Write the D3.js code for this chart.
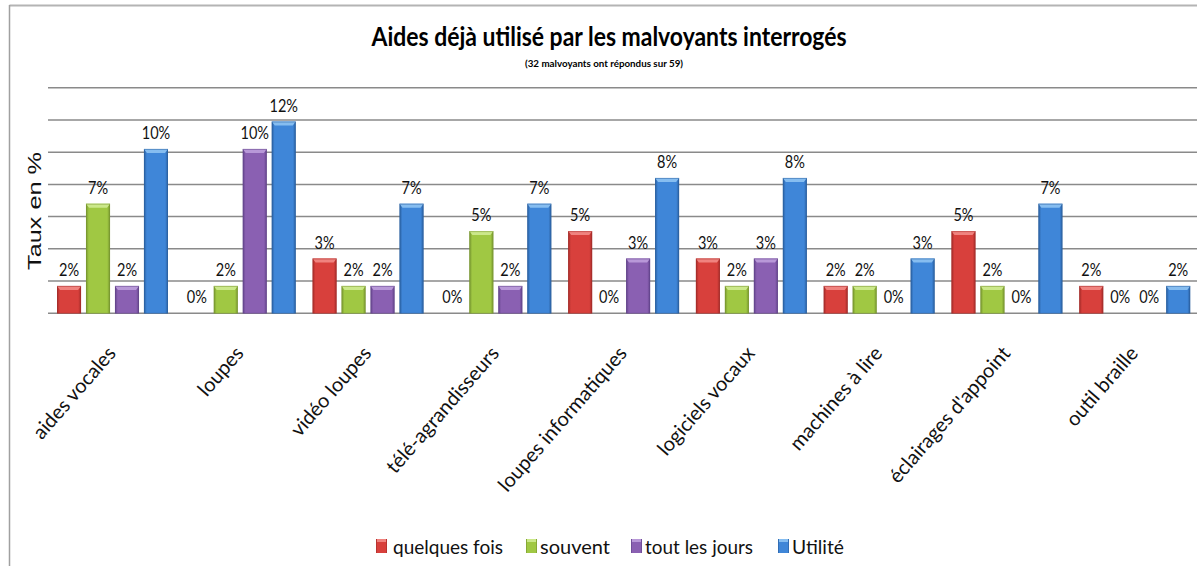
<!DOCTYPE html>
<html><head><meta charset="utf-8">
<script src="https://cdn.jsdelivr.net/npm/d3@7"></script>
<style>html,body{margin:0;padding:0;background:#fff;}svg{display:block;}</style>
</head><body>
<svg id="chart" width="1197" height="566"></svg>
<script>
const categories = ["aides vocales","loupes","vidéo loupes","télé-agrandisseurs","loupes informatiques","logiciels vocaux","machines à lire","éclairages d'appoint","outil braille"];
const series = ["quelques fois","souvent","tout les jours","Utilité"];
const quelquesFois = [1.7, 0, 3.4, 0, 5.1, 3.4, 1.7, 5.1, 1.7];
const souvent      = [6.8, 1.7, 1.7, 5.1, 0, 1.7, 1.7, 1.7, 0];
const toutLesJours = [1.7, 10.2, 1.7, 1.7, 3.4, 3.4, 0, 0, 0];
const utilite      = [10.2, 11.9, 6.8, 6.8, 8.4, 8.4, 3.4, 6.8, 1.7];
const yTicks = [0, 2, 4, 6, 8, 10, 12, 14];
const title = "Aides déjà utilisé par les malvoyants interrogés";
const subtitle = "(32 malvoyants ont répondus sur 59)";
const yLabel = "Taux en %";

const seriesValues = [quelquesFois, souvent, toutLesJours, utilite];
const colors = [
  {main:"#d8403c", edge:"#a32c29", top:"#f0837f"},
  {main:"#a0c843", edge:"#77952f", top:"#cbe88a"},
  {main:"#8a60b2", edge:"#62448a", top:"#b898d8"},
  {main:"#3f86d8", edge:"#2a5f9f", top:"#86bdf0"}
];

const svg = d3.select("#chart");
const defs = svg.append("defs");
colors.forEach((c,i)=>{
  const g = defs.append("linearGradient").attr("id","grad"+i).attr("x1","0").attr("x2","1").attr("y1","0").attr("y2","0");
  g.append("stop").attr("offset","0%").attr("stop-color",c.edge);
  g.append("stop").attr("offset","12%").attr("stop-color",c.main);
  g.append("stop").attr("offset","50%").attr("stop-color",c.main);
  g.append("stop").attr("offset","88%").attr("stop-color",c.main);
  g.append("stop").attr("offset","100%").attr("stop-color",c.edge);
});

// frame
svg.append("line").attr("x1",9.5).attr("x2",1197).attr("y1",5.5).attr("y2",5.5).attr("stroke","#b4b4b4").attr("stroke-width",2);
svg.append("line").attr("x1",9.5).attr("x2",9.5).attr("y1",5).attr("y2",566).attr("stroke","#a0a0a0").attr("stroke-width",1.5);

const x0 = d3.scaleBand().domain(categories).range([48, 1198]).paddingInner(0).paddingOuter(0);
const x1 = d3.scaleBand().domain(series).range([9, 120]).paddingInner(0.17);
const y = d3.scaleLinear().domain([0,14]).range([313.3, 87.7]);

// gridlines
svg.append("g").selectAll("line").data(yTicks).join("line")
  .attr("x1",48).attr("x2",1197)
  .attr("y1",d=>y(d)).attr("y2",d=>y(d))
  .attr("stroke","#8a8a8a").attr("stroke-width",1.5);

// bars
const groups = svg.append("g").selectAll("g").data(categories).join("g")
  .attr("transform",c=>`translate(${x0(c)},0)`);
groups.each(function(c,ci){
  const g = d3.select(this);
  series.forEach((s,si)=>{
    const v = seriesValues[si][ci];
    const bx = x1(s), bw = x1.bandwidth();
    if (v > 0) {
      const top = y(v), h = y(0)-y(v);
      g.append("rect").attr("x",bx).attr("y",top).attr("width",bw).attr("height",h)
        .attr("fill",`url(#grad${si})`);
      g.append("path")
        .attr("d",`M${bx},${top} L${bx+bw},${top} L${bx+bw-3},${top+4} L${bx+3},${top+4} Z`)
        .attr("fill",colors[si].top);
      g.append("rect").attr("x",bx+0.5).attr("y",top+0.5).attr("width",bw-1).attr("height",h-0.5)
        .attr("fill","none").attr("stroke",colors[si].edge).attr("stroke-opacity",0.5).attr("stroke-width",1);
    }
    g.append("text")
      .attr("transform",`translate(${bx+bw/2},${y(v)-10}) scale(0.88,1)`)
      .attr("text-anchor","middle")
      .attr("font-family","Lato, 'Open Sans', sans-serif")
      .attr("font-size",16.5).attr("fill","#111")
      .text(d3.format(".0f")(v)+"%");
  });
});

// category labels
svg.append("g").selectAll("text").data(categories).join("text")
  .attr("transform",c=>`translate(${x0(c)+x0.bandwidth()/2+5},354) rotate(-49)`)
  .attr("text-anchor","end")
  .attr("font-family","Lato, 'Open Sans', sans-serif")
  .attr("font-size",20).attr("fill","#111")
  .text(c=>c);

// title
svg.append("text").attr("x",609).attr("y",46).attr("text-anchor","middle")
  .attr("font-family","Lato, sans-serif").attr("font-weight","bold").attr("font-size",27)
  .attr("textLength",475).attr("lengthAdjust","spacingAndGlyphs").attr("fill","#000").text(title);
svg.append("text").attr("x",604).attr("y",67).attr("text-anchor","middle")
  .attr("font-family","Lato, sans-serif").attr("font-weight","bold").attr("font-size",10)
  .attr("textLength",158).attr("lengthAdjust","spacingAndGlyphs").attr("fill","#000").text(subtitle);

// y label
svg.append("text").attr("transform","translate(41,211) rotate(-90)").attr("text-anchor","middle")
  .attr("font-family","'Liberation Sans', Arial, sans-serif").attr("font-size",19)
  .attr("textLength",118).attr("lengthAdjust","spacingAndGlyphs").attr("fill","#111").text(yLabel);

// legend
const legendX = [376, 526, 631, 778];
const legendW = [110, 70, 108, 52];
const lg = svg.append("g").selectAll("g").data(series).join("g")
  .attr("transform",(s,i)=>`translate(${legendX[i]},0)`);
lg.append("rect").attr("x",0).attr("y",539).attr("width",11).attr("height",14)
  .attr("fill",(s,i)=>`url(#grad${i})`);
lg.append("rect").attr("x",1).attr("y",539).attr("width",9).attr("height",3)
  .attr("fill",(s,i)=>colors[i].top);
lg.append("text").attr("x",(s,i)=> i===0?17:14).attr("y",554)
  .attr("font-family","Lato, sans-serif").attr("font-size",20).attr("fill","#111")
  .attr("textLength",(s,i)=>legendW[i]).attr("lengthAdjust","spacingAndGlyphs")
  .text(s=>s);
</script>
</body></html>
